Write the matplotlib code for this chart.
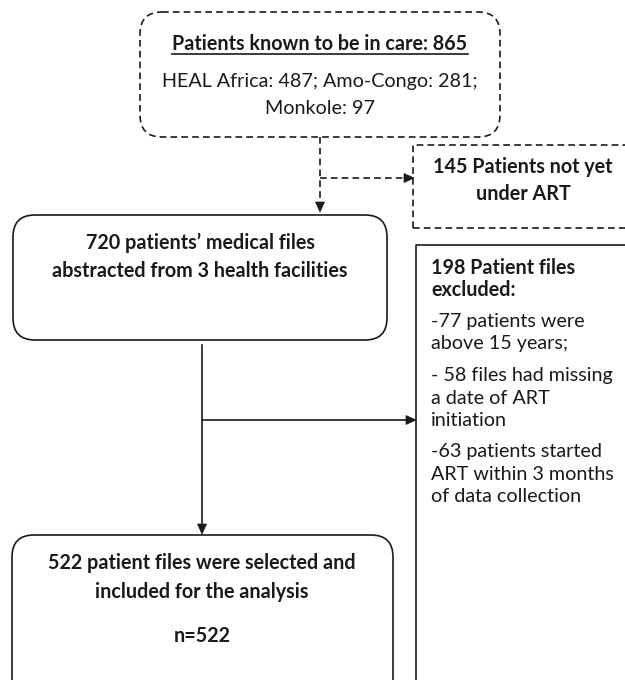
import matplotlib
matplotlib.use("Agg")
import matplotlib.pyplot as plt
from matplotlib.patches import FancyBboxPatch, Polygon

plt.rcParams['font.family'] = ['Lato', 'DejaVu Sans']

# box texts
top_title = "Patients known to be in care: 865"
top_lines = ["HEAL Africa: 487; Amo-Congo: 281;", "Monkole: 97"]
notart_lines = ["145 Patients not yet", "under ART"]
abstract_lines = ["720 patients\u2019 medical files", "abstracted from 3 health facilities"]
selected_lines = ["522 patient files were selected and", "included for the analysis"]
selected_n = "n=522"
excl_title = ["198 Patient files", "excluded:"]
excl_groups = [["-77 patients were", "above 15 years;"],
               ["- 58 files had missing", "a date of ART", "initiation"],
               ["-63 patients started", "ART within 3 months", "of data collection"]]

W, H = 625, 680
fig = plt.figure(figsize=(W / 100, H / 100), dpi=100)
ax = fig.add_axes([0, 0, 1, 1])
ax.set_xlim(0, W)
ax.set_ylim(H, 0)
ax.axis('off')

ink = '#1a1a1a'
dash = (0, (4, 2.5))
fs = 14.2


def rbox(x0, y0, x1, y1, ls='-', r=20):
    p = FancyBboxPatch((x0, y0), x1 - x0, y1 - y0,
                       boxstyle="round,pad=0,rounding_size=%d" % r,
                       fc='white', ec=ink, lw=1.2, linestyle=ls)
    ax.add_patch(p)


def head(x, y, d):
    # small filled arrowhead, tip at (x, y)
    if d == 'down':
        pts = [(x, y), (x - 4.5, y - 10), (x + 4.5, y - 10)]
    else:
        pts = [(x, y), (x - 10, y - 4.5), (x - 10, y + 4.5)]
    ax.add_patch(Polygon(pts, closed=True, fc=ink, ec=ink, lw=0.5))


# top dashed box
rbox(140, 12, 500, 137, ls=dash, r=22)
t = ax.text(320, 44, top_title, ha='center', va='center', fontsize=fs,
            fontweight='bold', color=ink)
fig.canvas.draw()
bb = t.get_window_extent().transformed(ax.transData.inverted())
ax.plot([bb.x0, bb.x1], [54, 54], color=ink, lw=1.2)
for i, s in enumerate(top_lines):
    ax.text(320, 82 + i * 26, s, ha='center', va='center', fontsize=fs, color=ink)

# dashed connector to 720 box and to 145 box
ax.plot([320, 320], [137, 202], color=ink, lw=1.2, linestyle=dash)
head(320, 212, 'down')
ax.plot([320, 404], [178, 178], color=ink, lw=1.2, linestyle=dash)
head(414, 178, 'right')

# 145 box (dashed, square, runs off page)
ax.plot([413, 413, 640], [228, 145, 145], color=ink, lw=1.2, linestyle=dash)
ax.plot([413, 640], [228, 228], color=ink, lw=1.2, linestyle=dash)
for i, s in enumerate(notart_lines):
    ax.text(523, 167 + i * 27, s, ha='center', va='center', fontsize=fs,
            fontweight='bold', color=ink)

# 720 box
rbox(13, 215, 387, 340, r=22)
for i, s in enumerate(abstract_lines):
    ax.text(200, 243 + i * 28, s, ha='center', va='center', fontsize=fs,
            fontweight='bold', color=ink)

# main flow
ax.plot([202, 202], [345, 524], color=ink, lw=1.2)
head(202, 534, 'down')
ax.plot([202, 406], [420, 420], color=ink, lw=1.2)
head(416, 420, 'right')

# 522 box
rbox(12, 535, 393, 720, r=22)
for i, s in enumerate(selected_lines):
    ax.text(202, 563 + i * 29, s, ha='center', va='center', fontsize=fs,
            fontweight='bold', color=ink)
ax.text(202, 636, selected_n, ha='center', va='center', fontsize=fs,
        fontweight='bold', color=ink)

# excluded box
ax.plot([416, 416, 640], [700, 245, 245], color=ink, lw=1.2)
y = 268
for s in excl_title:
    ax.text(431, y, s, ha='left', va='center', fontsize=fs, fontweight='bold', color=ink)
    y += 22
y += 10
for g in excl_groups:
    for s in g:
        ax.text(431, y, s, ha='left', va='center', fontsize=fs, color=ink)
        y += 22
    y += 10

fig.savefig("out.png", dpi=100, facecolor='white')
